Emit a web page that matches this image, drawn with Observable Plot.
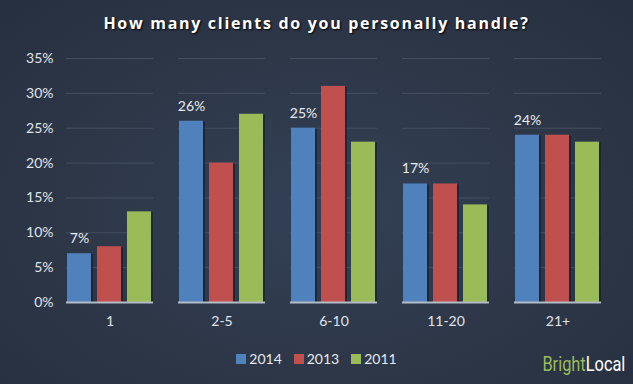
<!DOCTYPE html>
<html><head><meta charset="utf-8">
<script src="https://cdn.jsdelivr.net/npm/d3@7"></script>
<script src="https://cdn.jsdelivr.net/npm/@observablehq/plot@0.6"></script>
<style>
html,body{margin:0;padding:0;}
#wrap{position:relative;width:633px;height:384px;overflow:hidden;
background:radial-gradient(ellipse 70% 75% at 50% 55%, #334055 0%, #2d3748 55%, #273041 100%);
font-family:Lato,"Open Sans",sans-serif;}
#title{position:absolute;top:12px;left:0;width:633px;text-align:center;color:#fff;font-weight:bold;font-size:16px;letter-spacing:1.7px;text-shadow:1px 1px 2px #000;font-family:"Open Sans",Lato,sans-serif;}
#chart{position:absolute;top:40px;left:0;}
#legend{position:absolute;top:342px;left:0;width:633px;display:flex;justify-content:center;}
#legend span{margin-right:12px !important;}
#legend span:last-child{margin-right:0 !important;}
#legend svg{margin-right:3px !important;}
#brand{position:absolute;right:8px;top:352px;font-family:Roboto,sans-serif;font-size:21px;white-space:nowrap;transform:scaleX(0.78);transform-origin:right center;}
</style></head>
<body><div id="wrap">
<div id="title">How many clients do you personally handle?</div>
<div id="chart"></div>
<div id="legend"></div>
<div id="brand"><span style="color:#9bbb59">Bright</span><span style="color:#fff">Local</span></div>
</div>
<script>
const categories = ["1","2-5","6-10","11-20","21+"];
const years = ["2014","2013","2011"];
const colors = ["#4f81bd","#c0504d","#9bbb59"];
const v2014 = [7,26,25,17,24];
const v2013 = [8,20,31,17,24];
const v2011 = [13,27,23,14,23];
const yTicks = [0,5,10,15,20,25,30,35];

const series = {"2014":v2014,"2013":v2013,"2011":v2011};
const data = [];
categories.forEach((c,i)=>years.forEach(y=>data.push({cat:c,year:y,value:series[y][i]})));
const labelData = data.filter(d=>d.year==="2014");

const chart = Plot.plot({
  width:633, height:300,
  marginLeft:54, marginRight:19, marginTop:18, marginBottom:38,
  style:{background:"transparent",color:"#e0e4ea",fontSize:"14px",fontFamily:"Lato, 'Open Sans', sans-serif"},
  fx:{domain:categories, paddingInner:0.22, paddingOuter:0.11, label:null, axis:"bottom", tickSize:0, tickPadding:14},
  x:{domain:years, paddingInner:0.19, paddingOuter:0, axis:null},
  y:{domain:[0,35], ticks:yTicks, tickFormat:d=>d+"%", tickSize:0, tickPadding:13, label:null},
  color:{domain:years, range:colors},
  marks:[
    Plot.gridY(yTicks.filter(t=>t>0),{stroke:"#4a5668",strokeOpacity:0.8}),
    Plot.barY(data,{fx:"cat",x:"year",y:"value",fill:"#151b26",fillOpacity:0.6,dx:2,dy:1}),
    Plot.barY(data,{fx:"cat",x:"year",y:"value",fill:"year"}),
    Plot.text(labelData,{fx:"cat",x:"year",y:"value",text:d=>d.value+"%",dy:-15,fill:"#e8ebf0",fontSize:14}),
    Plot.ruleY([0],{stroke:"#b4bcc6",strokeWidth:2})
  ]
});
document.getElementById("chart").appendChild(chart);

const leg = Plot.legend({color:{domain:years, range:colors}, swatchSize:10,
  style:{color:"#e6e9ee",fontSize:"14px",fontFamily:"Lato, 'Open Sans', sans-serif",background:"transparent"}});
document.getElementById("legend").appendChild(leg);
</script>
</body></html>
